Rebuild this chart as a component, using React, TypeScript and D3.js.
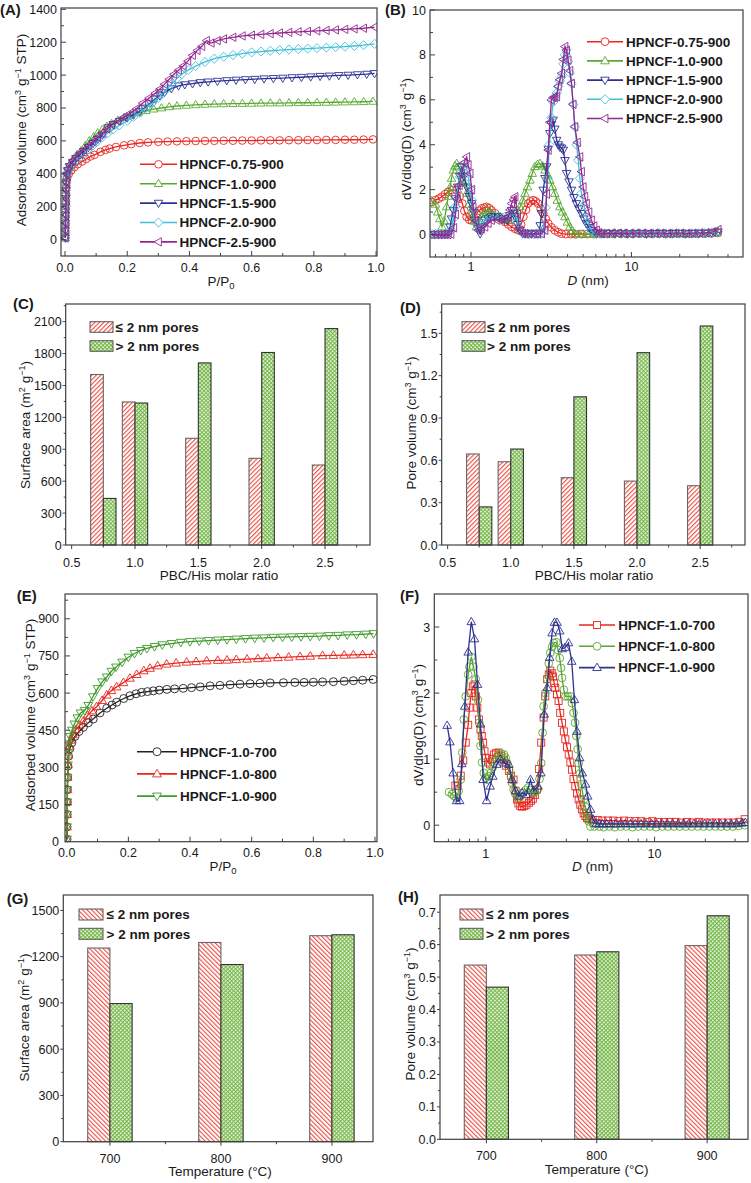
import React from 'react';
import * as d3 from 'd3';

type Pt = [number, number];

const FONT = "'Liberation Sans', Arial, Helvetica, sans-serif";
const AXIS = '#404040';
const TXT = '#1a1a1a';
const RED = '#e8261f';
const GREEN = '#5aa832';
const NAVY = '#2e3192';
const CYAN = '#41bfd9';
const PURPLE = '#93278f';
const BLACK = '#222222';
const EGREEN = '#3e9a2a';

// ---------------- Panel A: N2 isotherms (ratio series) ----------------
const A_NAMES = ['HPNCF-0.75-900', 'HPNCF-1.0-900', 'HPNCF-1.5-900', 'HPNCF-2.0-900', 'HPNCF-2.5-900'];
const A_075: Pt[] = [[0.001,10],[0.001,50],[0.0015,95],[0.002,140],[0.002,185],[0.003,230],[0.003,275],[0.004,315],[0.005,350],[0.007,375],[0.012,398],[0.02,420],[0.03,440],[0.041,458],[0.055,475],[0.068,490],[0.082,505],[0.095,515],[0.114,533],[0.13,545],[0.143,553],[0.164,563],[0.19,573],[0.213,580],[0.24,587],[0.267,591],[0.3,594],[0.33,596],[0.36,597],[0.39,598],[0.42,599],[0.45,600],[0.48,600],[0.51,601],[0.54,601],[0.57,602],[0.6,602],[0.63,603],[0.66,603],[0.69,603],[0.72,604],[0.75,604],[0.78,605],[0.81,605],[0.84,606],[0.87,606],[0.9,607],[0.93,607],[0.96,608],[0.99,609]];
const A_10: Pt[] = [[0.001,10],[0.001,55],[0.0015,100],[0.002,150],[0.002,200],[0.003,250],[0.003,300],[0.004,345],[0.005,385],[0.007,420],[0.012,445],[0.02,470],[0.03,495],[0.04,518],[0.052,540],[0.065,570],[0.078,600],[0.092,625],[0.105,648],[0.12,668],[0.135,688],[0.15,705],[0.17,725],[0.19,742],[0.21,756],[0.235,770],[0.26,783],[0.285,793],[0.31,800],[0.335,807],[0.36,812],[0.39,816],[0.42,819],[0.45,822],[0.48,824],[0.51,825],[0.54,826],[0.57,827],[0.6,828],[0.63,829],[0.66,830],[0.69,830],[0.72,831],[0.75,832],[0.78,832],[0.81,833],[0.84,834],[0.87,835],[0.9,836],[0.93,837],[0.96,838],[0.99,840]];
const A_15: Pt[] = [[0.001,10],[0.001,55],[0.0015,100],[0.002,150],[0.0025,200],[0.003,250],[0.0035,300],[0.004,345],[0.006,390],[0.009,420],[0.015,445],[0.025,470],[0.035,493],[0.048,515],[0.06,535],[0.075,560],[0.09,585],[0.105,610],[0.12,635],[0.138,680],[0.155,700],[0.175,718],[0.2,740],[0.22,758],[0.24,780],[0.256,800],[0.275,830],[0.29,855],[0.305,875],[0.32,895],[0.342,918],[0.365,935],[0.385,942],[0.41,948],[0.435,955],[0.46,959],[0.49,963],[0.52,967],[0.55,970],[0.58,973],[0.61,975],[0.64,978],[0.67,980],[0.7,982],[0.73,985],[0.76,987],[0.79,990],[0.82,993],[0.85,995],[0.88,998],[0.91,1000],[0.94,1003],[0.97,1006],[0.995,1010]];
const A_20: Pt[] = [[0.001,10],[0.001,55],[0.0015,100],[0.002,150],[0.0025,200],[0.003,250],[0.0035,300],[0.004,345],[0.006,385],[0.009,410],[0.015,435],[0.025,460],[0.035,480],[0.048,500],[0.06,520],[0.075,548],[0.09,572],[0.105,598],[0.12,622],[0.138,648],[0.155,670],[0.175,695],[0.2,722],[0.22,745],[0.24,772],[0.26,800],[0.28,830],[0.3,862],[0.315,890],[0.33,920],[0.345,950],[0.36,980],[0.375,1005],[0.396,1030],[0.42,1055],[0.45,1080],[0.48,1100],[0.51,1112],[0.54,1122],[0.57,1130],[0.6,1138],[0.63,1143],[0.66,1148],[0.69,1152],[0.72,1155],[0.75,1158],[0.78,1161],[0.81,1164],[0.84,1167],[0.87,1170],[0.9,1173],[0.93,1177],[0.96,1182],[0.995,1190]];
const A_25: Pt[] = [[0.001,10],[0.001,55],[0.0015,100],[0.002,150],[0.0025,200],[0.003,250],[0.0035,300],[0.004,350],[0.006,400],[0.009,430],[0.015,455],[0.025,478],[0.035,500],[0.048,522],[0.06,545],[0.075,570],[0.09,595],[0.105,620],[0.12,645],[0.135,672],[0.15,698],[0.17,722],[0.19,745],[0.21,768],[0.23,795],[0.25,830],[0.27,860],[0.29,890],[0.305,915],[0.32,945],[0.335,975],[0.35,1005],[0.365,1030],[0.38,1055],[0.395,1085],[0.41,1120],[0.425,1150],[0.44,1175],[0.455,1210],[0.47,1195],[0.49,1210],[0.51,1220],[0.54,1230],[0.57,1238],[0.6,1243],[0.63,1248],[0.66,1252],[0.69,1256],[0.72,1260],[0.75,1263],[0.78,1266],[0.81,1269],[0.84,1272],[0.87,1275],[0.9,1278],[0.93,1281],[0.96,1285],[0.995,1292]];
const A_X_TICKS = [0, 0.2, 0.4, 0.6, 0.8, 1.0];
const A_X_LABELS = ['0.0', '0.2', '0.4', '0.6', '0.8', '1.0'];
const A_X_MINOR = [0.1, 0.3, 0.5, 0.7, 0.9];
const A_Y_TICKS = [0, 200, 400, 600, 800, 1000, 1200, 1400];
const A_Y_LABELS = ['0', '200', '400', '600', '800', '1000', '1200', '1400'];
const A_Y_MINOR = [100, 300, 500, 700, 900, 1100, 1300];

// ---------------- Panel B: PSD (ratio series) ----------------
const B_075: Pt[] = [[0.57,1.45],[0.6,1.53],[0.63,1.6],[0.657,1.68],[0.69,1.8],[0.72,1.9],[0.76,1.98],[0.814,1.98],[0.85,1.7],[0.883,1.38],[0.91,1.05],[0.94,0.79],[0.975,0.66],[1.01,0.64],[1.04,0.75],[1.08,0.94],[1.12,1.06],[1.165,1.16],[1.21,1.2],[1.25,1.23],[1.3,1.17],[1.34,1.08],[1.41,0.95],[1.48,0.79],[1.55,0.68],[1.63,0.56],[1.71,0.45],[1.79,0.34],[1.88,0.26],[1.97,0.19],[2.05,0.45],[2.12,0.79],[2.2,1.1],[2.27,1.38],[2.35,1.48],[2.44,1.53],[2.53,1.48],[2.62,1.38],[2.72,1.15],[2.82,0.94],[2.92,0.7],[3.03,0.49],[3.17,0.32],[3.33,0.19],[3.5,0.1],[3.67,0.04],[3.9,0.02],[4.2,0.02],[4.5,0.01],[4.9,0.02],[5.3,0.02],[5.8,0.02],[6.4,0.03],[7,0.03],[7.7,0.03],[8.5,0.04],[9.3,0.03],[10.2,0.03],[11.2,0.04],[12.3,0.03],[13.5,0.03],[14.8,0.04],[16.3,0.03],[17.9,0.03],[19.7,0.04],[21.6,0.03],[23.7,0.03],[26,0.04],[28.6,0.04],[31.4,0.05],[34.5,0.08]];
const B_10: Pt[] = [[0.57,1.5],[0.6,1.35],[0.62,1.0],[0.64,0.7],[0.66,0.34],[0.68,0.6],[0.705,1.23],[0.72,1.7],[0.74,2.1],[0.756,2.5],[0.776,2.87],[0.795,3.05],[0.814,3.16],[0.84,3.0],[0.875,2.72],[0.905,2.3],[0.94,1.83],[0.975,1.35],[1.01,0.94],[1.04,0.6],[1.08,0.34],[1.12,0.55],[1.165,0.79],[1.21,0.95],[1.25,1.08],[1.3,1.02],[1.34,0.94],[1.41,0.86],[1.48,0.79],[1.55,0.72],[1.63,0.68],[1.71,0.64],[1.79,0.78],[1.88,0.94],[1.95,1.08],[2.02,1.23],[2.1,1.5],[2.17,1.83],[2.25,2.12],[2.33,2.42],[2.41,2.72],[2.5,3.02],[2.6,3.12],[2.69,3.16],[2.79,3.05],[2.89,2.87],[3.0,2.65],[3.1,2.42],[3.22,2.12],[3.33,1.83],[3.45,1.52],[3.58,1.23],[3.71,1.0],[3.85,0.79],[3.99,0.55],[4.13,0.34],[4.28,0.18],[4.44,0.04],[4.7,0.02],[5.0,0.02],[5.4,0.02],[5.8,0.02],[6.3,0.03],[6.9,0.04],[7.6,0.03],[8.3,0.04],[9.1,0.04],[10.0,0.03],[11.0,0.04],[12.1,0.04],[13.3,0.03],[14.6,0.04],[16.0,0.04],[17.6,0.03],[19.3,0.04],[21.2,0.04],[23.3,0.03],[25.6,0.04],[28.1,0.04],[30.9,0.05],[34.2,0.07]];
const B_15: Pt[] = [[0.57,0.0],[0.6,0.0],[0.63,0.0],[0.66,0.0],[0.69,0.0],[0.72,0.05],[0.74,0.34],[0.756,0.7],[0.776,1.08],[0.8,1.6],[0.826,2.12],[0.85,2.6],[0.875,3.02],[0.905,2.6],[0.94,2.12],[0.975,1.7],[1.01,1.38],[1.035,1.0],[1.06,0.64],[1.1,0.3],[1.14,0.04],[1.18,0.35],[1.22,0.64],[1.28,0.72],[1.34,0.79],[1.41,0.8],[1.48,0.79],[1.58,0.72],[1.68,0.64],[1.74,0.85],[1.79,1.08],[1.84,0.95],[1.88,0.79],[1.95,0.45],[2.02,0.19],[2.1,0.05],[2.17,0.04],[2.27,0.03],[2.38,0.04],[2.5,0.03],[2.62,0.04],[2.7,0.4],[2.75,0.94],[2.82,1.98],[2.89,2.5],[2.96,3.02],[3.03,3.8],[3.1,4.5],[3.17,4.9],[3.25,5.1],[3.33,4.7],[3.42,4.2],[3.5,4.0],[3.58,3.9],[3.67,3.85],[3.76,3.76],[3.85,3.3],[3.94,2.72],[4.08,2.35],[4.23,1.98],[4.38,1.65],[4.54,1.38],[4.7,1.15],[4.88,0.94],[5.05,0.7],[5.24,0.49],[5.43,0.32],[5.63,0.19],[5.84,0.1],[6.05,0.04],[6.6,0.04],[7.2,0.05],[7.9,0.04],[8.7,0.05],[9.5,0.04],[10.4,0.05],[11.4,0.05],[12.5,0.04],[13.7,0.05],[15.0,0.05],[16.5,0.04],[18.1,0.05],[19.9,0.05],[21.8,0.04],[24.0,0.05],[26.3,0.05],[28.9,0.06],[31.7,0.07],[34.6,0.12]];
const B_20: Pt[] = [[0.57,0.02],[0.6,0.02],[0.63,0.02],[0.66,0.02],[0.69,0.02],[0.72,0.03],[0.75,0.2],[0.775,0.7],[0.795,1.23],[0.82,1.9],[0.854,2.57],[0.885,2.95],[0.917,3.16],[0.94,2.9],[0.96,2.57],[0.985,2.05],[1.01,1.53],[1.035,1.05],[1.06,0.64],[1.1,0.4],[1.14,0.19],[1.18,0.4],[1.22,0.64],[1.3,0.72],[1.41,0.79],[1.52,0.79],[1.63,0.79],[1.75,0.85],[1.88,0.94],[1.95,0.55],[2.02,0.19],[2.1,0.05],[2.17,0.04],[2.3,0.03],[2.45,0.04],[2.6,0.03],[2.75,0.05],[2.82,0.19],[2.92,1.2],[3.0,2.5],[3.08,4.0],[3.17,5.2],[3.25,5.9],[3.33,6.14],[3.42,6.3],[3.5,6.6],[3.58,6.85],[3.67,7.03],[3.76,7.6],[3.85,8.0],[3.94,8.22],[4.03,7.7],[4.13,7.2],[4.23,6.73],[4.33,5.8],[4.44,4.8],[4.55,4.0],[4.66,3.31],[4.77,2.5],[4.88,1.83],[5.06,1.3],[5.24,0.79],[5.43,0.45],[5.63,0.19],[5.84,0.08],[6.05,0.04],[6.5,0.05],[7.1,0.04],[7.8,0.05],[8.6,0.05],[9.4,0.04],[10.3,0.05],[11.3,0.05],[12.4,0.04],[13.6,0.05],[14.9,0.05],[16.4,0.04],[18.0,0.05],[19.8,0.05],[21.7,0.04],[23.8,0.05],[26.2,0.05],[28.8,0.06],[31.6,0.08],[34.6,0.13]];
const B_25: Pt[] = [[0.57,0.0],[0.6,0.0],[0.63,0.0],[0.66,0.0],[0.69,0.0],[0.72,0.0],[0.75,0.02],[0.78,0.3],[0.8,0.9],[0.82,1.6],[0.845,2.2],[0.875,2.72],[0.905,3.2],[0.94,3.46],[0.96,3.1],[0.986,2.72],[1.01,2.0],[1.03,1.23],[1.07,0.6],[1.11,0.19],[1.16,0.25],[1.22,0.34],[1.28,0.5],[1.34,0.64],[1.45,0.64],[1.55,0.64],[1.63,0.72],[1.71,0.79],[1.75,1.1],[1.79,1.38],[1.84,1.55],[1.88,1.68],[1.95,0.9],[2.02,0.19],[2.1,0.05],[2.17,0.04],[2.3,0.03],[2.45,0.04],[2.6,0.03],[2.75,0.04],[2.89,0.19],[2.96,1.8],[3.03,3.76],[3.1,5.0],[3.17,5.99],[3.25,6.1],[3.33,6.12],[3.42,6.14],[3.5,6.6],[3.58,6.9],[3.67,7.18],[3.76,7.8],[3.85,8.37],[3.94,8.2],[4.03,7.77],[4.13,7.3],[4.23,6.73],[4.33,5.8],[4.44,4.8],[4.6,4.1],[4.77,3.46],[4.88,2.8],[5.0,2.12],[5.12,1.7],[5.24,1.38],[5.43,1.0],[5.63,0.64],[5.84,0.38],[6.05,0.19],[6.27,0.08],[6.5,0.04],[7.0,0.05],[7.6,0.06],[8.3,0.05],[9.0,0.06],[9.8,0.05],[10.7,0.06],[11.7,0.06],[12.8,0.05],[14.0,0.06],[15.3,0.06],[16.8,0.05],[18.4,0.06],[20.2,0.06],[22.1,0.05],[24.2,0.06],[26.6,0.07],[29.2,0.08],[32.0,0.12],[34.7,0.22]];
const B_X_TICKS = [1, 10];
const B_X_LABELS = ['1', '10'];
const B_X_MINOR = [0.6, 0.7, 0.8, 0.9, 2, 3, 4, 5, 6, 7, 8, 9, 20, 30, 40];
const B_Y_TICKS = [0, 2, 4, 6, 8, 10];
const B_Y_LABELS = ['0', '2', '4', '6', '8', '10'];
const B_Y_MINOR = [1, 3, 5, 7, 9];

// ---------------- Panels C, D: bars vs PBC/His ratio ----------------
const C_RATIOS = [0.75, 1.0, 1.5, 2.0, 2.5];
const C_MICRO = [1603, 1345, 1003, 815, 752];
const C_MESO = [438, 1335, 1712, 1810, 2035];
const C_Y_TICKS = [0, 300, 600, 900, 1200, 1500, 1800, 2100];
const C_Y_LABELS = ['0', '300', '600', '900', '1200', '1500', '1800', '2100'];
const C_Y_MINOR = [150, 450, 750, 1050, 1350, 1650, 1950, 2250];
const D_MICRO = [0.645, 0.59, 0.477, 0.453, 0.42];
const D_MESO = [0.27, 0.68, 1.05, 1.363, 1.552];
const D_Y_TICKS = [0, 0.3, 0.6, 0.9, 1.2, 1.5];
const D_Y_LABELS = ['0.0', '0.3', '0.6', '0.9', '1.2', '1.5'];
const D_Y_MINOR = [0.15, 0.45, 0.75, 1.05, 1.35, 1.65];
const CD_X_TICKS = [0.5, 1.0, 1.5, 2.0, 2.5];
const CD_X_LABELS = ['0.5', '1.0', '1.5', '2.0', '2.5'];
const CD_X_MINOR = [0.75, 1.25, 1.75, 2.25, 2.75];
const BAR_NAMES = ['\u2264 2 nm pores', '> 2 nm pores'];

// ---------------- Panel E: isotherms (temperature series) ----------------
const E_NAMES = ['HPNCF-1.0-700', 'HPNCF-1.0-800', 'HPNCF-1.0-900'];
const E_700: Pt[] = [[0.001,10],[0.001,60],[0.0015,110],[0.002,160],[0.002,210],[0.003,260],[0.004,305],[0.006,345],[0.01,375],[0.017,400],[0.027,425],[0.04,445],[0.054,462],[0.07,480],[0.086,495],[0.108,520],[0.13,539],[0.147,552],[0.162,563],[0.185,578],[0.205,589],[0.225,597],[0.243,603],[0.262,606],[0.281,609],[0.3,612],[0.325,615],[0.35,617],[0.378,619],[0.405,622],[0.433,625],[0.465,629],[0.497,631],[0.53,634],[0.562,636],[0.595,638],[0.627,639],[0.66,641],[0.703,642],[0.74,643],[0.77,643],[0.8,644],[0.83,645],[0.865,646],[0.9,648],[0.93,650],[0.96,652],[0.994,655]];
const E_800: Pt[] = [[0.001,10],[0.001,60],[0.0015,110],[0.002,160],[0.0025,210],[0.003,260],[0.004,310],[0.005,350],[0.008,385],[0.013,410],[0.02,432],[0.03,452],[0.042,470],[0.054,487],[0.068,510],[0.082,528],[0.097,545],[0.115,570],[0.13,592],[0.145,610],[0.162,625],[0.184,642],[0.205,660],[0.227,675],[0.25,690],[0.27,700],[0.295,710],[0.324,717],[0.355,721],[0.389,725],[0.42,727],[0.454,730],[0.49,732],[0.52,733],[0.55,735],[0.585,737],[0.62,739],[0.649,741],[0.685,743],[0.72,745],[0.757,747],[0.79,749],[0.83,751],[0.865,752],[0.9,753],[0.93,754],[0.96,755],[0.994,756]];
const E_900: Pt[] = [[0.001,10],[0.001,60],[0.0015,110],[0.002,160],[0.0025,210],[0.003,260],[0.004,310],[0.005,355],[0.007,395],[0.011,425],[0.017,450],[0.025,475],[0.035,500],[0.045,520],[0.058,530],[0.07,550],[0.085,585],[0.1,618],[0.115,645],[0.13,665],[0.145,688],[0.16,705],[0.18,725],[0.2,745],[0.22,760],[0.24,772],[0.26,780],[0.285,788],[0.31,795],[0.34,800],[0.37,805],[0.4,808],[0.43,810],[0.46,812],[0.49,814],[0.52,816],[0.55,818],[0.58,820],[0.61,822],[0.64,823],[0.67,825],[0.7,826],[0.73,827],[0.76,828],[0.79,829],[0.82,830],[0.85,832],[0.88,833],[0.91,835],[0.94,836],[0.97,838],[0.995,840]];
const E_X_TICKS = [0, 0.2, 0.4, 0.6, 0.8, 1.0];
const E_X_LABELS = ['0.0', '0.2', '0.4', '0.6', '0.8', '1.0'];
const E_X_MINOR = [0.1, 0.3, 0.5, 0.7, 0.9];
const E_Y_TICKS = [0, 150, 300, 450, 600, 750, 900];
const E_Y_LABELS = ['0', '150', '300', '450', '600', '750', '900'];
const E_Y_MINOR = [75, 225, 375, 525, 675, 825, 975];

// ---------------- Panel F: PSD (temperature series) ----------------
const F_700: Pt[] = [[0.66,0.6],[0.68,0.59],[0.71,0.75],[0.735,0.98],[0.76,1.25],[0.786,1.52],[0.8,1.78],[0.82,2.0],[0.837,2.1],[0.857,2.13],[0.873,1.95],[0.89,1.78],[0.91,1.6],[0.93,1.45],[0.946,1.35],[0.964,1.25],[0.982,1.12],[1.0,1.02],[1.03,0.95],[1.06,0.92],[1.09,1.0],[1.12,1.07],[1.15,1.09],[1.19,1.1],[1.23,1.05],[1.28,0.99],[1.32,0.9],[1.37,0.82],[1.41,0.75],[1.46,0.69],[1.5,0.52],[1.53,0.39],[1.56,0.33],[1.6,0.29],[1.64,0.28],[1.69,0.29],[1.74,0.31],[1.8,0.34],[1.85,0.37],[1.9,0.4],[1.96,0.46],[2.01,0.54],[2.07,0.85],[2.13,1.25],[2.2,1.63],[2.25,1.95],[2.31,2.21],[2.36,2.28],[2.41,2.34],[2.46,2.3],[2.5,2.25],[2.54,2.15],[2.58,2.08],[2.64,1.98],[2.7,1.88],[2.76,1.7],[2.83,1.55],[2.9,1.42],[2.96,1.3],[3.03,1.18],[3.1,1.07],[3.17,0.95],[3.24,0.84],[3.31,0.7],[3.39,0.59],[3.47,0.48],[3.55,0.39],[3.63,0.31],[3.71,0.24],[3.8,0.18],[3.89,0.14],[3.98,0.11],[4.07,0.09],[4.3,0.08],[4.6,0.08],[4.9,0.07],[5.3,0.07],[5.7,0.07],[6.1,0.06],[6.6,0.07],[7.1,0.06],[7.7,0.06],[8.3,0.06],[9,0.05],[9.7,0.06],[10.5,0.05],[11.4,0.05],[12.3,0.05],[13.3,0.05],[14.4,0.04],[15.6,0.05],[16.9,0.04],[18.3,0.05],[19.8,0.04],[21.4,0.04],[23.2,0.04],[25.1,0.04],[27.2,0.04],[29.4,0.04],[31.8,0.05],[34.2,0.09]];
const F_800: Pt[] = [[0.605,0.5],[0.63,0.47],[0.65,0.44],[0.67,0.41],[0.69,0.52],[0.71,0.69],[0.725,1.1],[0.74,1.6],[0.76,1.95],[0.786,2.28],[0.8,2.4],[0.82,2.55],[0.845,2.4],[0.87,2.21],[0.897,1.9],[0.913,1.55],[0.93,1.2],[0.95,0.95],[0.973,0.79],[1.0,0.72],[1.02,0.69],[1.045,0.74],[1.07,0.79],[1.1,0.88],[1.13,0.95],[1.16,1.02],[1.19,1.07],[1.235,1.08],[1.28,1.07],[1.31,1.02],[1.34,0.94],[1.375,0.84],[1.41,0.74],[1.43,0.64],[1.46,0.54],[1.5,0.47],[1.55,0.41],[1.6,0.44],[1.66,0.49],[1.72,0.53],[1.78,0.57],[1.84,0.53],[1.9,0.49],[1.96,0.5],[2.03,0.54],[2.08,0.7],[2.13,0.94],[2.17,1.4],[2.2,1.8],[2.25,2.0],[2.31,2.21],[2.36,2.45],[2.41,2.61],[2.47,2.7],[2.53,2.76],[2.62,2.77],[2.68,2.65],[2.74,2.53],[2.79,2.38],[2.83,2.23],[2.9,2.05],[2.96,1.95],[3.06,1.95],[3.17,1.95],[3.24,1.85],[3.31,1.7],[3.38,1.55],[3.44,1.35],[3.5,1.15],[3.55,0.94],[3.61,0.78],[3.67,0.62],[3.74,0.5],[3.81,0.39],[3.87,0.28],[3.94,0.19],[4.0,0.12],[4.07,0.06],[4.17,-0.02],[4.4,-0.02],[4.7,-0.02],[5.0,-0.03],[5.4,-0.02],[5.8,-0.03],[6.3,-0.02],[6.8,-0.02],[7.4,-0.03],[8.0,-0.02],[8.7,-0.02],[9.4,-0.02],[10.2,-0.03],[11.1,-0.02],[12.0,-0.02],[13.0,-0.02],[14.1,-0.02],[15.3,-0.02],[16.6,-0.02],[18.0,-0.02],[19.5,-0.02],[21.1,-0.02],[22.9,-0.02],[24.8,-0.02],[26.9,-0.02],[29.1,-0.02],[31.5,-0.01],[34.2,0.0]];
const F_900: Pt[] = [[0.59,1.51],[0.613,1.26],[0.64,0.79],[0.67,0.37],[0.7,0.37],[0.72,0.93],[0.75,1.8],[0.786,2.62],[0.82,3.08],[0.857,2.82],[0.893,2.13],[0.93,1.53],[0.964,0.69],[1.01,0.37],[1.06,0.59],[1.1,0.74],[1.16,0.92],[1.22,1.0],[1.29,0.94],[1.37,0.92],[1.43,0.69],[1.5,0.52],[1.57,0.44],[1.64,0.49],[1.74,0.46],[1.84,0.69],[1.92,0.52],[2.04,0.59],[2.12,0.79],[2.22,1.68],[2.31,2.08],[2.39,2.54],[2.47,2.91],[2.55,3.07],[2.64,3.07],[2.74,2.94],[2.84,2.67],[2.95,2.69],[3.09,2.76],[3.23,2.48],[3.35,1.9],[3.47,1.42],[3.6,1.02],[3.73,0.79],[3.9,0.62],[4.02,0.44],[4.17,0.24],[4.32,0.09],[4.5,0.02],[4.7,0.02],[4.9,0.02],[5.2,0.02],[5.5,0.02],[5.9,0.02],[6.3,0.02],[6.7,0.02],[7.2,0.02],[7.7,0.02],[8.3,0.02],[8.9,0.02],[9.6,0.02],[10.3,0.02],[11.1,0.02],[11.9,0.02],[12.8,0.02],[13.8,0.02],[14.8,0.02],[15.9,0.02],[17.1,0.02],[18.4,0.02],[19.8,0.02],[21.3,0.02],[22.9,0.02],[24.6,0.02],[26.5,0.02],[28.5,0.02],[30.6,0.02],[32.9,0.03],[34.5,0.04]];
const F_X_TICKS = [1, 10];
const F_X_LABELS = ['1', '10'];
const F_X_MINOR = [0.6, 0.7, 0.8, 0.9, 2, 3, 4, 5, 6, 7, 8, 9, 20, 30];
const F_Y_TICKS = [0, 1, 2, 3];
const F_Y_LABELS = ['0', '1', '2', '3'];
const F_Y_MINOR = [0.5, 1.5, 2.5];

// ---------------- Panels G, H: bars vs temperature ----------------
const G_TEMPS = [700, 800, 900];
const G_MICRO = [1256, 1292, 1336];
const G_MESO = [896, 1149, 1342];
const G_Y_TICKS = [0, 300, 600, 900, 1200, 1500];
const G_Y_LABELS = ['0', '300', '600', '900', '1200', '1500'];
const G_Y_MINOR = [150, 450, 750, 1050, 1350];
const H_MICRO = [0.537, 0.568, 0.597];
const H_MESO = [0.469, 0.578, 0.689];
const H_Y_TICKS = [0, 0.1, 0.2, 0.3, 0.4, 0.5, 0.6, 0.7];
const H_Y_LABELS = ['0.0', '0.1', '0.2', '0.3', '0.4', '0.5', '0.6', '0.7'];
const H_Y_MINOR = [0.05, 0.15, 0.25, 0.35, 0.45, 0.55, 0.65];
const GH_X_TICKS = [700, 800, 900];
const GH_X_LABELS = ['700', '800', '900'];
const GH_X_MINOR = [750, 850];

type Shape = 'circle' | 'up' | 'down' | 'diamond' | 'left' | 'square';

function Marker({ shape, x, y, s, color, fill = 'none' }: { shape: Shape; x: number; y: number; s: number; color: string; fill?: string }) {
  const sw = 0.9;
  if (shape === 'circle') return <circle cx={x} cy={y} r={s} fill={fill} stroke={color} strokeWidth={sw} />;
  if (shape === 'square') return <rect x={x - s * 0.9} y={y - s * 0.9} width={s * 1.8} height={s * 1.8} fill={fill} stroke={color} strokeWidth={sw} />;
  let d = '';
  if (shape === 'up') d = `M${x},${y - s * 1.15}L${x + s * 1.1},${y + s * 0.75}L${x - s * 1.1},${y + s * 0.75}Z`;
  if (shape === 'down') d = `M${x},${y + s * 1.15}L${x + s * 1.1},${y - s * 0.75}L${x - s * 1.1},${y - s * 0.75}Z`;
  if (shape === 'left') d = `M${x - s * 1.15},${y}L${x + s * 0.75},${y - s * 1.1}L${x + s * 0.75},${y + s * 1.1}Z`;
  if (shape === 'diamond') d = `M${x},${y - s * 1.2}L${x + s * 1.2},${y}L${x},${y + s * 1.2}L${x - s * 1.2},${y}Z`;
  return <path d={d} fill={fill} stroke={color} strokeWidth={sw} />;
}

type Series = { data: Pt[]; color: string; shape: Shape; name: string };

function Frame({ l, r, t, b }: any) {
  return <rect x={l} y={t} width={r - l} height={b - t} fill="none" stroke={AXIS} strokeWidth={1.2} />;
}

function YTitle({ x, y, children }: any) {
  return (
    <text transform={`translate(${x},${y}) rotate(-90)`} textAnchor="middle" fontSize={13.5} fill={TXT}>
      {children}
    </text>
  );
}

function Letter({ x, y, t }: any) {
  return <text x={x} y={y} fontSize={15} fontWeight="bold" fill={TXT}>{t}</text>;
}

function LinePanel(p: any) {
  const { id, l, r, t, b, xs, ys, msize } = p;
  const gap = p.yLabGap ?? 4;
  const line = d3.line<Pt>().x((d) => xs(d[0])).y((d) => ys(d[1]));
  const series: Series[] = p.series;
  return (
    <g>
      <clipPath id={id}>
        <rect x={l} y={t} width={r - l} height={b - t} />
      </clipPath>
      <g clipPath={`url(#${id})`}>
        {series.map((s, i) => (
          <g key={i}>
            <path d={line(s.data) || ''} fill="none" stroke={s.color} strokeWidth={1.3} />
            {s.data.map((d, j) => (
              <Marker key={j} shape={s.shape} x={xs(d[0])} y={ys(d[1])} s={msize} color={s.color} />
            ))}
          </g>
        ))}
      </g>
      <Frame l={l} r={r} t={t} b={b} />
      {p.xTicks.map((v: number, i: number) => (
        <g key={'xt' + i}>
          <line x1={xs(v)} x2={xs(v)} y1={b} y2={b - 5} stroke={AXIS} strokeWidth={1} />
          <text x={xs(v)} y={b + p.xLabDy} textAnchor="middle" fontSize={12.5} fill={TXT}>{p.xLabels[i]}</text>
        </g>
      ))}
      {p.xMinor.map((v: number, i: number) => (
        <line key={'xm' + i} x1={xs(v)} x2={xs(v)} y1={b} y2={b - 3} stroke={AXIS} strokeWidth={1} />
      ))}
      {p.yTicks.map((v: number, i: number) => (
        <g key={'yt' + i}>
          <line x1={l} x2={l + 5} y1={ys(v)} y2={ys(v)} stroke={AXIS} strokeWidth={1} />
          <text x={l - gap} y={ys(v) + 4.5} textAnchor="end" fontSize={12.5} fill={TXT}>{p.yLabels[i]}</text>
        </g>
      ))}
      {p.yMinor.map((v: number, i: number) => (
        <line key={'ym' + i} x1={l} x2={l + 3} y1={ys(v)} y2={ys(v)} stroke={AXIS} strokeWidth={1} />
      ))}
      {series.map((s, i) => {
        const y = p.leg.y0 + i * p.leg.dy;
        const cx = (p.leg.x0 + p.leg.x1) / 2;
        return (
          <g key={'lg' + i}>
            <line x1={p.leg.x0} x2={p.leg.x1} y1={y} y2={y} stroke={s.color} strokeWidth={1.6} />
            <Marker shape={s.shape} x={cx} y={y} s={msize} color={s.color} fill="#fff" />
            <text x={p.leg.tx} y={y + 4.8} fontSize={13.5} fontWeight="bold" fill={TXT}>{s.name}</text>
          </g>
        );
      })}
    </g>
  );
}

function BarPanel(p: any) {
  const { l, r, t, b, xs, ys, w } = p;
  return (
    <g>
      {p.cats.map((c: number, i: number) => (
        <g key={'b' + i}>
          <rect x={xs(c - w)} y={ys(p.micro[i])} width={xs(c) - xs(c - w)} height={ys(0) - ys(p.micro[i])}
            fill={`url(#${p.redPat})`} stroke="#666" strokeWidth={1.1} />
          <rect x={xs(c)} y={ys(p.meso[i])} width={xs(c + w) - xs(c)} height={ys(0) - ys(p.meso[i])}
            fill="url(#crossG)" stroke="#333" strokeWidth={1.1} />
        </g>
      ))}
      <Frame l={l} r={r} t={t} b={b} />
      {p.xTicks.map((v: number, i: number) => (
        <g key={'xt' + i}>
          <line x1={xs(v)} x2={xs(v)} y1={b} y2={b + 4} stroke={AXIS} strokeWidth={1} />
          <text x={xs(v)} y={b + p.xLabDy} textAnchor="middle" fontSize={12.5} fill={TXT}>{p.xLabels[i]}</text>
        </g>
      ))}
      {p.xMinor.map((v: number, i: number) => (
        <line key={'xm' + i} x1={xs(v)} x2={xs(v)} y1={b} y2={b + 2.5} stroke={AXIS} strokeWidth={1} />
      ))}
      {p.yTicks.map((v: number, i: number) => (
        <g key={'yt' + i}>
          <line x1={l} x2={l - 3} y1={ys(v)} y2={ys(v)} stroke={AXIS} strokeWidth={1} />
          <text x={l - 4} y={ys(v) + 4.5} textAnchor="end" fontSize={12.5} fill={TXT}>{p.yLabels[i]}</text>
        </g>
      ))}
      {p.yMinor.map((v: number, i: number) => (
        <line key={'ym' + i} x1={l} x2={l - 2} y1={ys(v)} y2={ys(v)} stroke={AXIS} strokeWidth={1} />
      ))}
      {[p.redPat, 'crossG'].map((pat: string, i: number) => (
        <g key={'lg' + i}>
          <rect x={p.leg.x} y={p.leg.y0 + i * p.leg.dy} width={p.leg.w} height={p.leg.h} fill={`url(#${pat})`} stroke="#555" strokeWidth={1} />
          <text x={p.leg.tx} y={p.leg.y0 + i * p.leg.dy + p.leg.h / 2 + 4.8} fontSize={13.5} fontWeight="bold" fill={TXT}>{BAR_NAMES[i]}</text>
        </g>
      ))}
    </g>
  );
}

const Cm3 = () => (
  <>
    (cm<tspan dy={-5} fontSize={9}>3</tspan>
    <tspan dy={5}> g</tspan>
    <tspan dy={-5} fontSize={9}>{'\u22121'}</tspan>
    <tspan dy={5}>)</tspan>
  </>
);

export default function App() {
  // Panel A
  const aX = d3.scaleLinear().domain([-0.0129, 1.003]).range([61, 377]);
  const aY = d3.scaleLinear().domain([-100, 1408]).range([256, 8]);
  // Panel B
  const bX = d3.scaleLog().domain([0.555, 49.6]).range([430, 743]);
  const bY = d3.scaleLinear().domain([-1, 10]).range([257, 10]);
  // Panel C/D
  const cX = d3.scaleLinear().domain([0.453, 2.855]).range([65.7, 370]);
  const cY = d3.scaleLinear().domain([0, 2266]).range([545, 304]);
  const dX = d3.scaleLinear().domain([0.453, 2.855]).range([441.7, 745]);
  const dY = d3.scaleLinear().domain([0, 1.708]).range([545, 304]);
  // Panel E/F
  const eX = d3.scaleLinear().domain([-0.0055, 1.0065]).range([65, 377]);
  const eY = d3.scaleLinear().domain([0, 1000]).range([841.7, 594]);
  const fX = d3.scaleLog().domain([0.495, 35.8]).range([434.3, 748]);
  const fY = d3.scaleLinear().domain([-0.25, 3.5]).range([841.7, 594]);
  // Panel G/H
  const gX = d3.scaleLinear().domain([658, 937]).range([63.3, 373]);
  const gY = d3.scaleLinear().domain([0, 1600]).range([1141.7, 895]);
  const hX = d3.scaleLinear().domain([658, 937]).range([440, 748]);
  const hY = d3.scaleLinear().domain([0, 0.753]).range([1139.3, 895]);

  const aSeries: Series[] = [
    { data: A_075, color: RED, shape: 'circle', name: A_NAMES[0] },
    { data: A_10, color: GREEN, shape: 'up', name: A_NAMES[1] },
    { data: A_15, color: NAVY, shape: 'down', name: A_NAMES[2] },
    { data: A_20, color: CYAN, shape: 'diamond', name: A_NAMES[3] },
    { data: A_25, color: PURPLE, shape: 'left', name: A_NAMES[4] },
  ];
  const bSeries: Series[] = [
    { data: B_075, color: RED, shape: 'circle', name: A_NAMES[0] },
    { data: B_10, color: GREEN, shape: 'up', name: A_NAMES[1] },
    { data: B_15, color: NAVY, shape: 'down', name: A_NAMES[2] },
    { data: B_20, color: CYAN, shape: 'diamond', name: A_NAMES[3] },
    { data: B_25, color: PURPLE, shape: 'left', name: A_NAMES[4] },
  ];
  const eSeries: Series[] = [
    { data: E_700, color: BLACK, shape: 'circle', name: E_NAMES[0] },
    { data: E_800, color: RED, shape: 'up', name: E_NAMES[1] },
    { data: E_900, color: EGREEN, shape: 'down', name: E_NAMES[2] },
  ];
  const fSeries: Series[] = [
    { data: F_700, color: RED, shape: 'square', name: E_NAMES[0] },
    { data: F_800, color: GREEN, shape: 'circle', name: E_NAMES[1] },
    { data: F_900, color: NAVY, shape: 'up', name: E_NAMES[2] },
  ];

  return (
    <svg width={751} height={1183} viewBox="0 0 751 1183" fontFamily={FONT}
      style={{ position: 'absolute', left: 0, top: 0, background: '#fff' }}>
      <defs>
        <pattern id="hatchF" width={3.2} height={3.2} patternUnits="userSpaceOnUse" patternTransform="rotate(45)">
          <rect width={3.2} height={3.2} fill="#fff" />
          <line x1={0.6} y1={0} x2={0.6} y2={3.2} stroke="#ea3a30" strokeWidth={1.0} />
        </pattern>
        <pattern id="hatchB" width={3.2} height={3.2} patternUnits="userSpaceOnUse" patternTransform="rotate(-45)">
          <rect width={3.2} height={3.2} fill="#fff" />
          <line x1={0.6} y1={0} x2={0.6} y2={3.2} stroke="#ea3a30" strokeWidth={1.0} />
        </pattern>
        <pattern id="crossG" width={2.8} height={2.8} patternUnits="userSpaceOnUse" patternTransform="rotate(45)">
          <rect width={2.8} height={2.8} fill="#eef7e6" />
          <line x1={0.6} y1={0} x2={0.6} y2={2.8} stroke="#6db33f" strokeWidth={1.0} />
          <line x1={0} y1={0.6} x2={2.8} y2={0.6} stroke="#6db33f" strokeWidth={1.0} />
        </pattern>
      </defs>
      <rect width={751} height={1183} fill="#fff" />

      {/* Panel A */}
      <LinePanel id="clipA" l={61} r={377} t={8} b={256} xs={aX} ys={aY} msize={3.8}
        xTicks={A_X_TICKS} xLabels={A_X_LABELS} xMinor={A_X_MINOR} xLabDy={15.5}
        yTicks={A_Y_TICKS} yLabels={A_Y_LABELS} yMinor={A_Y_MINOR}
        series={aSeries} leg={{ x0: 140, x1: 177, tx: 179.5, y0: 164.3, dy: 19.4 }} />
      <YTitle x={26} y={130}>Adsorbed volume <tspan>(cm</tspan><tspan dy={-5} fontSize={9}>3</tspan><tspan dy={5}> g</tspan><tspan dy={-5} fontSize={9}>{'\u22121'}</tspan><tspan dy={5}> STP)</tspan></YTitle>
      <text x={221} y={286} textAnchor="middle" fontSize={13.5} fill={TXT}>P/P<tspan dy={3} fontSize={9.5}>0</tspan></text>
      <Letter x={0} y={15} t="(A)" />

      {/* Panel B */}
      <LinePanel id="clipB" l={430} r={743} t={10} b={257} xs={bX} ys={bY} msize={3.9}
        xTicks={B_X_TICKS} xLabels={B_X_LABELS} xMinor={B_X_MINOR} xLabDy={14}
        yTicks={B_Y_TICKS} yLabels={B_Y_LABELS} yMinor={B_Y_MINOR}
        series={bSeries} leg={{ x0: 587, x1: 623, tx: 626, y0: 41.7, dy: 19.2 }} />
      <YTitle x={411} y={139}>dV/dlog(D) <Cm3 /></YTitle>
      <text x={588} y={285} textAnchor="middle" fontSize={13.5} fill={TXT}><tspan fontStyle="italic">D</tspan> (nm)</text>
      <Letter x={385} y={15} t="(B)" />

      {/* Panel C */}
      <BarPanel l={65.7} r={370} t={304} b={545} xs={cX} ys={cY} w={0.1}
        cats={C_RATIOS} micro={C_MICRO} meso={C_MESO} redPat="hatchF"
        xTicks={CD_X_TICKS} xLabels={CD_X_LABELS} xMinor={CD_X_MINOR} xLabDy={21.5}
        yTicks={C_Y_TICKS} yLabels={C_Y_LABELS} yMinor={C_Y_MINOR}
        leg={{ x: 90, y0: 321.7, dy: 19, w: 23, h: 10.6, tx: 115.5 }} />
      <YTitle x={29.5} y={425}>Surface area (m<tspan dy={-5} fontSize={9}>2</tspan><tspan dy={5}> g</tspan><tspan dy={-5} fontSize={9}>{'\u22121'}</tspan><tspan dy={5}>)</tspan></YTitle>
      <text x={219} y={580} textAnchor="middle" fontSize={13.5} fill={TXT}>PBC/His molar ratio</text>
      <Letter x={13} y={309} t="(C)" />

      {/* Panel D */}
      <BarPanel l={441.7} r={745} t={304} b={545} xs={dX} ys={dY} w={0.1}
        cats={C_RATIOS} micro={D_MICRO} meso={D_MESO} redPat="hatchF"
        xTicks={CD_X_TICKS} xLabels={CD_X_LABELS} xMinor={CD_X_MINOR} xLabDy={21.5}
        yTicks={D_Y_TICKS} yLabels={D_Y_LABELS} yMinor={D_Y_MINOR}
        leg={{ x: 462, y0: 321.7, dy: 19, w: 23, h: 10.6, tx: 487 }} />
      <YTitle x={416} y={423}>Pore volume <Cm3 /></YTitle>
      <text x={594} y={580} textAnchor="middle" fontSize={13.5} fill={TXT}>PBC/His molar ratio</text>
      <Letter x={400} y={313} t="(D)" />

      {/* Panel E */}
      <LinePanel id="clipE" l={65} r={377} t={594} b={841.7} xs={eX} ys={eY} msize={4}
        xTicks={E_X_TICKS} xLabels={E_X_LABELS} xMinor={E_X_MINOR} xLabDy={15.5} yLabGap={6}
        yTicks={E_Y_TICKS} yLabels={E_Y_LABELS} yMinor={E_Y_MINOR}
        series={eSeries} leg={{ x0: 137, x1: 177, tx: 180, y0: 751.7, dy: 22.2 }} />
      <YTitle x={34.5} y={715}>Adsorbed volume <tspan>(cm</tspan><tspan dy={-5} fontSize={9}>3</tspan><tspan dy={5}> g</tspan><tspan dy={-5} fontSize={9}>{'\u22121'}</tspan><tspan dy={5}> STP)</tspan></YTitle>
      <text x={223} y={871} textAnchor="middle" fontSize={13.5} fill={TXT}>P/P<tspan dy={3} fontSize={9.5}>0</tspan></text>
      <Letter x={16.7} y={601} t="(E)" />

      {/* Panel F */}
      <LinePanel id="clipF" l={434.3} r={748} t={594} b={841.7} xs={fX} ys={fY} msize={3.9}
        xTicks={F_X_TICKS} xLabels={F_X_LABELS} xMinor={F_X_MINOR} xLabDy={16.5}
        yTicks={F_Y_TICKS} yLabels={F_Y_LABELS} yMinor={F_Y_MINOR}
        series={fSeries} leg={{ x0: 579, x1: 615, tx: 618.3, y0: 625, dy: 21.3 }} />
      <YTitle x={422.5} y={725}>dV/dlog(D) <Cm3 /></YTitle>
      <text x={592.5} y={871} textAnchor="middle" fontSize={13.5} fill={TXT}><tspan fontStyle="italic">D</tspan> (nm)</text>
      <Letter x={400} y={601} t="(F)" />

      {/* Panel G */}
      <BarPanel l={63.3} r={373} t={895} b={1141.7} xs={gX} ys={gY} w={20}
        cats={G_TEMPS} micro={G_MICRO} meso={G_MESO} redPat="hatchB"
        xTicks={GH_X_TICKS} xLabels={GH_X_LABELS} xMinor={GH_X_MINOR} xLabDy={21}
        yTicks={G_Y_TICKS} yLabels={G_Y_LABELS} yMinor={G_Y_MINOR}
        leg={{ x: 79, y0: 909, dy: 19.3, w: 24, h: 11, tx: 106.5 }} />
      <YTitle x={29} y={1017.5}>Surface area (m<tspan dy={-5} fontSize={9}>2</tspan><tspan dy={5}> g</tspan><tspan dy={-5} fontSize={9}>{'\u22121'}</tspan><tspan dy={5}>)</tspan></YTitle>
      <text x={220} y={1176} textAnchor="middle" fontSize={13.5} fill={TXT}>Temperature (°C)</text>
      <Letter x={6.7} y={904} t="(G)" />

      {/* Panel H */}
      <BarPanel l={440} r={748} t={895} b={1139.3} xs={hX} ys={hY} w={20}
        cats={G_TEMPS} micro={H_MICRO} meso={H_MESO} redPat="hatchB"
        xTicks={GH_X_TICKS} xLabels={GH_X_LABELS} xMinor={GH_X_MINOR} xLabDy={20.7}
        yTicks={H_Y_TICKS} yLabels={H_Y_LABELS} yMinor={H_Y_MINOR}
        leg={{ x: 460, y0: 909, dy: 19.3, w: 23, h: 11, tx: 486 }} />
      <YTitle x={414.5} y={1014}>Pore volume <Cm3 /></YTitle>
      <text x={596.7} y={1174} textAnchor="middle" fontSize={13.5} fill={TXT}>Temperature (°C)</text>
      <Letter x={398} y={902} t="(H)" />
    </svg>
  );
}
